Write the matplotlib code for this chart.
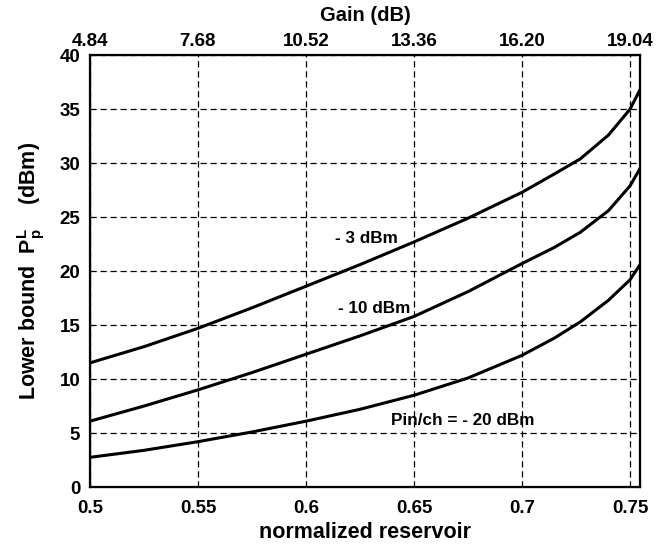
import numpy as np
import matplotlib
matplotlib.use("Agg")
import matplotlib.pyplot as plt

plt.rcParams['font.family'] = ['Liberation Sans', 'DejaVu Sans']
plt.rcParams['font.weight'] = 'bold'
plt.rcParams['mathtext.fontset'] = 'custom'
plt.rcParams['mathtext.bf'] = 'Liberation Sans:bold'
plt.rcParams['mathtext.rm'] = 'Liberation Sans:bold'
plt.rcParams['mathtext.it'] = 'Liberation Sans:bold'

# normalized reservoir (x) and lower bound (dBm) for each input power
x_vals = [0.5, 0.525, 0.55, 0.575, 0.6, 0.625, 0.65, 0.675, 0.7, 0.715, 0.727, 0.74, 0.75, 0.7546]
p_m3 = [11.5, 13.0, 14.7, 16.6, 18.6, 20.6, 22.7, 24.9, 27.3, 29.0, 30.4, 32.6, 35.0, 36.8]
p_m10 = [6.1, 7.5, 9.0, 10.6, 12.3, 14.0, 15.8, 18.1, 20.7, 22.2, 23.6, 25.6, 27.9, 29.5]
p_m20 = [2.75, 3.4, 4.2, 5.1, 6.1, 7.2, 8.5, 10.1, 12.2, 13.8, 15.3, 17.3, 19.2, 20.6]

x_ticks = [0.5, 0.55, 0.6, 0.65, 0.7, 0.75]
x_labels = ['0.5', '0.55', '0.6', '0.65', '0.7', '0.75']
gain_labels = ['4.84', '7.68', '10.52', '13.36', '16.20', '19.04']
y_ticks = [0, 5, 10, 15, 20, 25, 30, 35, 40]

fig = plt.figure(figsize=(6.66, 5.46), dpi=100)
ax = fig.add_axes([0.1351, 0.108, 0.8259, 0.791])

for ys in (p_m3, p_m10, p_m20):
    ax.plot(x_vals, ys, color='black', linewidth=2.2)

ax.set_xlim(0.5, 0.7546)
ax.set_ylim(0, 40)
ax.set_xticks(x_ticks)
ax.set_xticklabels(x_labels)
ax.set_yticks(y_ticks)
ax.tick_params(axis='x', length=0, labelsize=13.5, pad=9)
ax.tick_params(axis='y', length=0, labelsize=13.5, pad=7)
ax.grid(True, color='black', linestyle=(0, (5, 3)), linewidth=0.9)
for s in ax.spines.values():
    s.set_linewidth(1.6)

ax.set_xlabel('normalized reservoir', fontsize=15.5, fontweight='bold', labelpad=4)
ax.set_ylabel('Lower bound  $\\mathbf{P_p^L}$    (dBm)', fontsize=15.5, fontweight='bold', labelpad=9)

ax.text(0.628, 23.05, '- 3 dBm', fontsize=12.3, fontweight='bold', ha='center', va='center')
ax.text(0.6315, 16.5, '- 10 dBm', fontsize=12.3, fontweight='bold', ha='center', va='center')
ax.text(0.6727, 6.2, 'Pin/ch = - 20 dBm', fontsize=12.3, fontweight='bold', ha='center', va='center')

top = ax.twiny()
top.set_xlim(ax.get_xlim())
top.set_xticks(x_ticks)
top.set_xticklabels(gain_labels)
top.tick_params(length=0, labelsize=13.5, pad=4)
top.set_xlabel('Gain (dB)', fontsize=14.5, fontweight='bold', labelpad=8)

fig.savefig('out.png', dpi=100)
